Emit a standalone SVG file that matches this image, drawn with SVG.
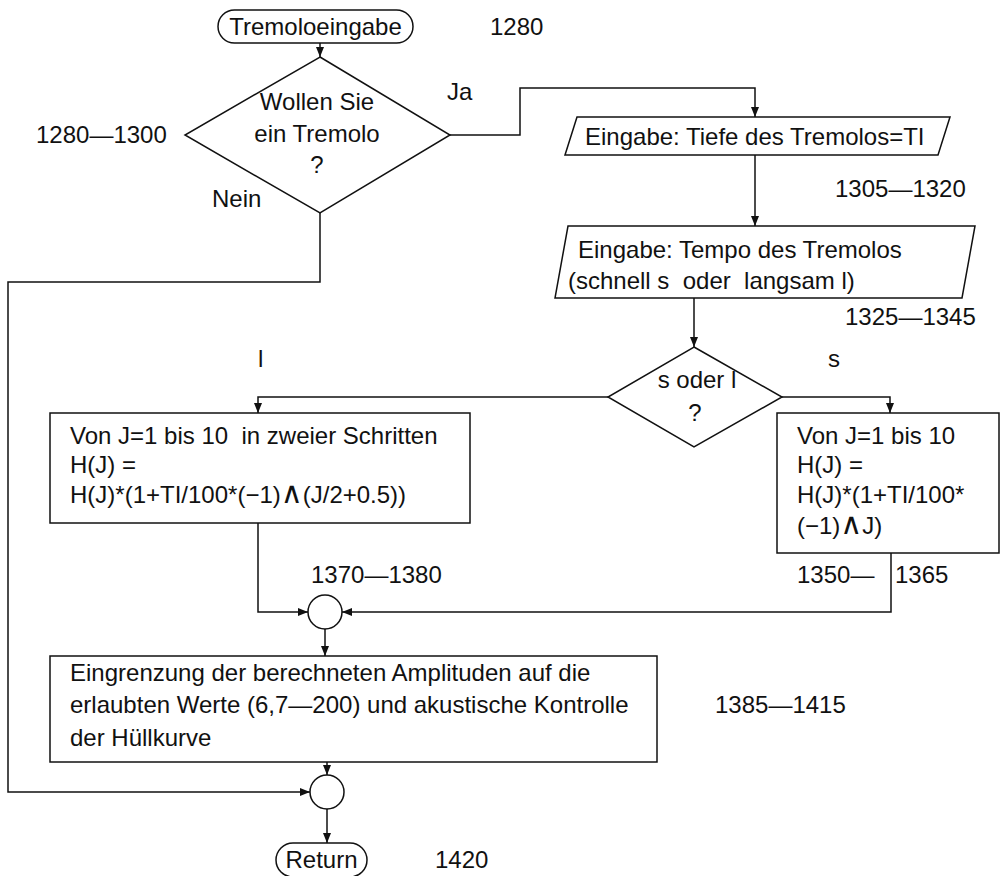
<svg xmlns="http://www.w3.org/2000/svg" width="1004" height="876" viewBox="0 0 1004 876">
  <style>
    text { font-family: "Liberation Sans", Arial, sans-serif; font-size: 24px; fill: #111; }
    .mid { text-anchor: middle; }
    .wedge { font-family: "DejaVu Sans", sans-serif; font-size: 30px; }
    .shape { fill: #fff; stroke: #111; stroke-width: 1.5; }
    .wire { fill: none; stroke: #111; stroke-width: 1.5; }
  </style>
  <defs>
    <marker id="arrow" markerWidth="10" markerHeight="8" refX="10" refY="4" orient="auto" markerUnits="userSpaceOnUse">
      <path d="M0,0 L10,4 L0,8 z" fill="#111"/>
    </marker>
  </defs>

  <rect width="1004" height="876" fill="#fff"/>

  <!-- connectors -->
  <g id="connectors" class="wire">
    <path d="M320,43 V57" marker-end="url(#arrow)"/>
    <path d="M450,135 H520 V88 H755 V117" marker-end="url(#arrow)"/>
    <path d="M755,155 V226" marker-end="url(#arrow)"/>
    <path d="M694,298 V347" marker-end="url(#arrow)"/>
    <path d="M608,397 H258 V413" marker-end="url(#arrow)"/>
    <path d="M782,397 H890 V413" marker-end="url(#arrow)"/>
    <path d="M258,523 V612 H308" marker-end="url(#arrow)"/>
    <path d="M891,553 V612 H342" marker-end="url(#arrow)"/>
    <path d="M325,629 V656" marker-end="url(#arrow)"/>
    <path d="M327,762 V775" marker-end="url(#arrow)"/>
    <path d="M320,213 V282 H8 V792 H310" marker-end="url(#arrow)"/>
    <path d="M327,809 V843" marker-end="url(#arrow)"/>
  </g>

  <!-- start terminator -->
  <g id="start">
    <rect class="shape" x="218" y="10" width="195" height="33" rx="16.5"/>
    <text class="mid" x="315.5" y="35">Tremoloeingabe</text>
    <text x="490" y="35">1280</text>
  </g>

  <!-- decision: tremolo wanted? -->
  <g id="decision-tremolo">
    <polygon class="shape" points="320,57 450,135 320,213 185,135"/>
    <text class="mid" x="317" y="110">Wollen Sie</text>
    <text class="mid" x="317" y="142">ein Tremolo</text>
    <text class="mid" x="317" y="173">?</text>
    <text x="36" y="143">1280—1300</text>
    <text x="447" y="100">Ja</text>
    <text x="212" y="207">Nein</text>
  </g>

  <!-- input: depth -->
  <g id="input-depth">
    <polygon class="shape" points="577,117 950,117 938,155 565,155"/>
    <text x="585" y="145">Eingabe: Tiefe des Tremolos=TI</text>
    <text x="835" y="197">1305—1320</text>
  </g>

  <!-- input: tempo -->
  <g id="input-tempo">
    <polygon class="shape" points="568,226 975,226 962,298 555,298"/>
    <text x="578" y="258">Eingabe: Tempo des Tremolos</text>
    <text x="568" y="289" xml:space="preserve">(schnell s  oder  langsam l)</text>
    <text x="845" y="325">1325—1345</text>
  </g>

  <!-- decision: fast or slow -->
  <g id="decision-tempo">
    <polygon class="shape" points="694,347 782,397 694,447 608,397"/>
    <text class="mid" x="697" y="388">s oder l</text>
    <text class="mid" x="695" y="421">?</text>
    <text x="258" y="367">l</text>
    <text x="828" y="367">s</text>
  </g>

  <!-- slow branch -->
  <g id="process-slow">
    <rect class="shape" x="50" y="413" width="420" height="110"/>
    <text x="70" y="444" xml:space="preserve">Von J=1 bis 10  in zweier Schritten</text>
    <text x="70" y="473">H(J) =</text>
    <text x="70" y="503">H(J)*(1+TI/100*(−1)<tspan class="wedge">∧</tspan>(J/2+0.5))</text>
  </g>

  <!-- fast branch -->
  <g id="process-fast">
    <rect class="shape" x="777" y="413" width="222" height="140"/>
    <text x="797" y="444">Von J=1 bis 10</text>
    <text x="797" y="473">H(J) =</text>
    <text x="797" y="503">H(J)*(1+TI/100*</text>
    <text x="797" y="534">(−1)<tspan class="wedge">∧</tspan>J)</text>
    <text x="797" y="583">1350—</text>
    <text x="895" y="583">1365</text>
  </g>

  <!-- junction after branches -->
  <g id="junction-1">
    <circle class="shape" cx="325" cy="612" r="17"/>
    <text x="311" y="583">1370—1380</text>
  </g>

  <!-- limiting and check -->
  <g id="process-limit">
    <rect class="shape" x="50" y="656" width="607" height="106"/>
    <text x="70" y="681">Eingrenzung der berechneten Amplituden auf die</text>
    <text x="70" y="713">erlaubten Werte (6,7—200) und akustische Kontrolle</text>
    <text x="70" y="746">der Hüllkurve</text>
    <text x="715" y="713">1385—1415</text>
  </g>

  <!-- junction before return -->
  <g id="junction-2">
    <circle class="shape" cx="327" cy="792" r="17"/>
  </g>

  <!-- end terminator -->
  <g id="end">
    <rect class="shape" x="276" y="843" width="91" height="34" rx="17"/>
    <text class="mid" x="321.5" y="868">Return</text>
    <text x="435" y="868">1420</text>
  </g>
</svg>
